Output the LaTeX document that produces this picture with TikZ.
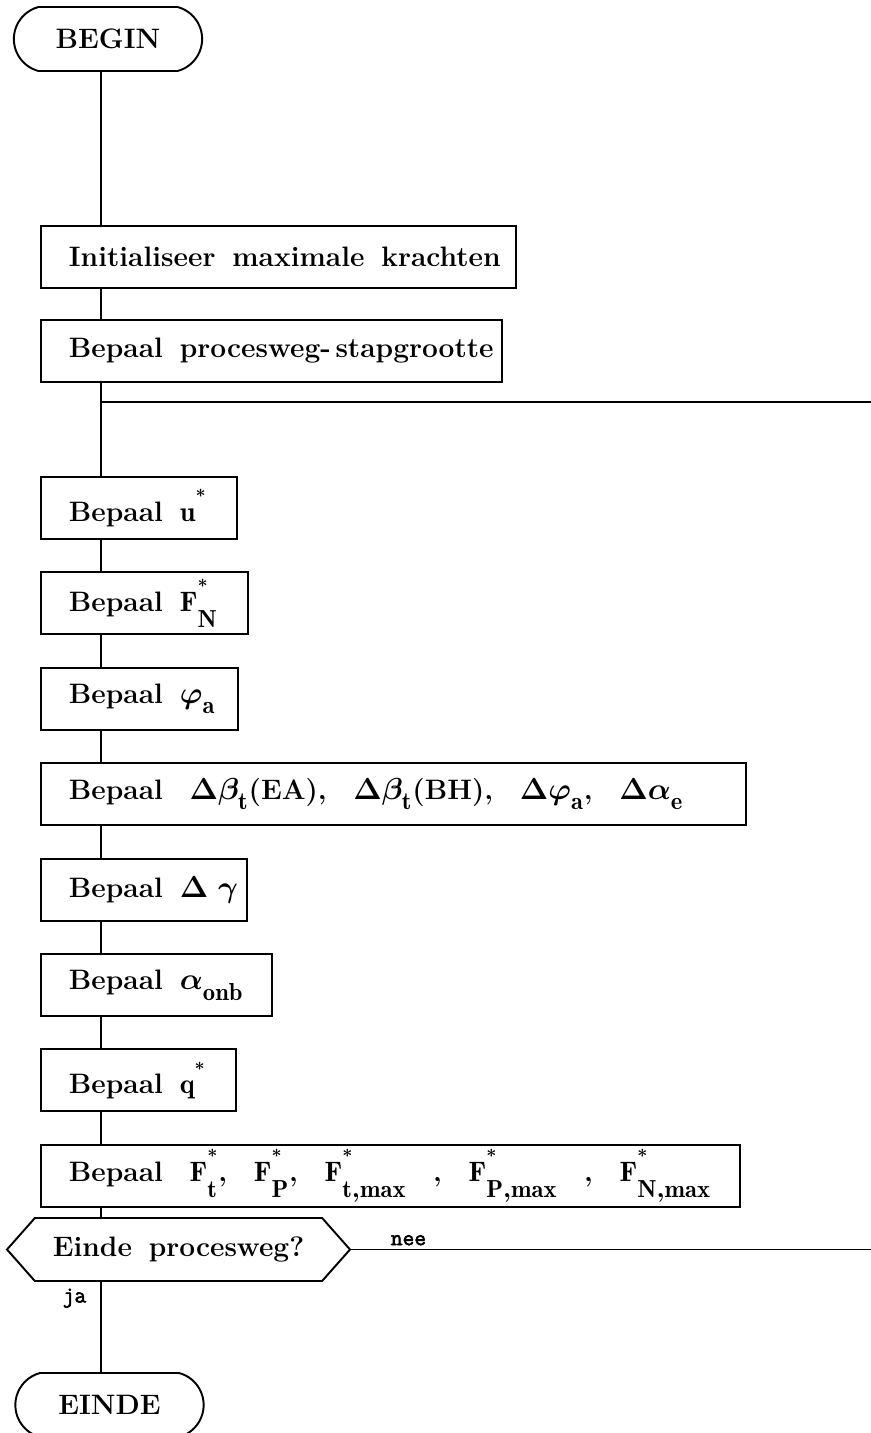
\documentclass[tikz,border=0pt]{standalone}
\usepackage{amsmath}
\usepackage{amssymb}
\usepackage{fontspec}
\newfontfamily\janee{Latin Modern Mono}[FakeBold=2.5]
\usepackage{tikz}
\usetikzlibrary{positioning, shapes.misc, shapes.symbols}
\DeclareMathSizes{16}{16}{14}{10}
\newcommand{\ster}{\raisebox{0.45em}{$\scriptscriptstyle\ast$}}
\newcommand{\onder}[1]{_{\raisebox{-0.22em}{$\scriptstyle\mathrm{#1}$}}}
\tikzset{
  tekst/.style  = {font={\fontsize{16}{19}\selectfont\bfseries\boldmath\spaceskip=0.6em\relax}},
  blok/.style   = {draw, line width=1.1pt, tekst, minimum height=1.24cm,
                   inner xsep=0.56cm, inner ysep=0pt, align=left, anchor=north west},
  stap/.style   = {blok, text width=#1,
                   execute at begin node={\spaceskip=0.6em\relax\hbox\bgroup},
                   execute at end node={\egroup}},
  breed/.style  = {execute at begin node={\spaceskip=0.95em\relax}},
  eind/.style   = {draw, line width=1.1pt, tekst, rounded rectangle,
                   rounded rectangle arc length=150, minimum width=4cm,
                   minimum height=1.28cm},
  keuze/.style  = {draw, line width=1.1pt, tekst, signal, signal to=west and east,
                   signal pointer angle=97, minimum width=6.86cm,
                   minimum height=1.26cm, inner xsep=0pt},
  lijn/.style   = {line width=0.8pt},
  klein/.style  = {font=\fontsize{13}{15}\selectfont\janee, inner sep=2pt}
}
\begin{document}
\begin{tikzpicture}
  \useasboundingbox (0,0) rectangle (17.42,-28.66);
  \coordinate (spine) at (2.02,0);
  \coordinate (rand)  at (17.42,0);
  \coordinate (lus)   at (2.02,-8.04);

  \node[eind] (begin) at (2.16,-0.78) {BEGIN};
  \node[stap=8.38cm] (init) at (0.8,-4.5) {Initialiseer maximale krachten};
  \node[stap=8.10cm, below right=0.6cm and 0cm of init.south west]  (proc)
    {Bepaal procesweg-\,stapgrootte};
  \node[stap=2.80cm, below right=1.86cm and 0cm of proc.south west] (u)
    {Bepaal $\mathrm{u}^{\ster}$};
  \node[stap=3.02cm, below right=0.63cm and 0cm of u.south west]    (fn)
    {Bepaal $\mathrm{F}^{\ster}\onder{N}$};
  \node[stap=2.82cm, below right=0.63cm and 0cm of fn.south west]   (phi)
    {Bepaal $\varphi\onder{a}$};
  \node[stap=12.98cm, breed, below right=0.63cm and 0cm of phi.south west] (delta)
    {Bepaal $\Delta\beta\onder{t}$(EA), $\Delta\beta\onder{t}$(BH), $\Delta\varphi\onder{a}$, $\Delta\alpha\onder{e}$};
  \node[stap=3.00cm, below right=0.63cm and 0cm of delta.south west] (gamma)
    {Bepaal $\Delta\;\gamma$};
  \node[stap=3.50cm, below right=0.63cm and 0cm of gamma.south west] (onb)
    {Bepaal $\alpha\onder{onb}$};
  \node[stap=2.78cm, below right=0.63cm and 0cm of onb.south west]   (q)
    {Bepaal $\mathrm{q}^{\ster}$};
  \node[stap=12.86cm, breed, below right=0.63cm and 0cm of q.south west] (kracht)
    {Bepaal $\mathrm{F}^{\ster}\onder{t}$, $\mathrm{F}^{\ster}\onder{P}$, $\mathrm{F}^{\ster}\onder{t,max}$ , $\mathrm{F}^{\ster}\onder{P,max}$ , $\mathrm{F}^{\ster}\onder{N,max}$};
  \node[keuze] (einde) at (3.57,-24.99) {Einde procesweg?};
  \node[eind] (stop) at (2.19,-28.10) {EINDE};

  \draw[lijn] (begin.south -| spine) -- (init.north -| spine);
  \draw[lijn] (init.south -| spine)  -- (proc.north -| spine);
  \draw[lijn] (proc.south -| spine)  -- (u.north -| spine);
  \draw[lijn] (lus) -- (lus -| rand);
  \draw[lijn] (u.south -| spine)     -- (fn.north -| spine);
  \draw[lijn] (fn.south -| spine)    -- (phi.north -| spine);
  \draw[lijn] (phi.south -| spine)   -- (delta.north -| spine);
  \draw[lijn] (delta.south -| spine) -- (gamma.north -| spine);
  \draw[lijn] (gamma.south -| spine) -- (onb.north -| spine);
  \draw[lijn] (onb.south -| spine)   -- (q.north -| spine);
  \draw[lijn] (q.south -| spine)     -- (kracht.north -| spine);
  \draw[lijn] (kracht.south -| spine) -- (einde.north -| spine);
  \draw[lijn] (einde.east) -- node[klein, above, pos=0.11]{nee} (einde.east -| rand);
  \draw[lijn] (einde.south -| spine) -- node[klein, left=6pt, pos=0.18]{ja} (stop.north -| spine);
\end{tikzpicture}
\end{document}
